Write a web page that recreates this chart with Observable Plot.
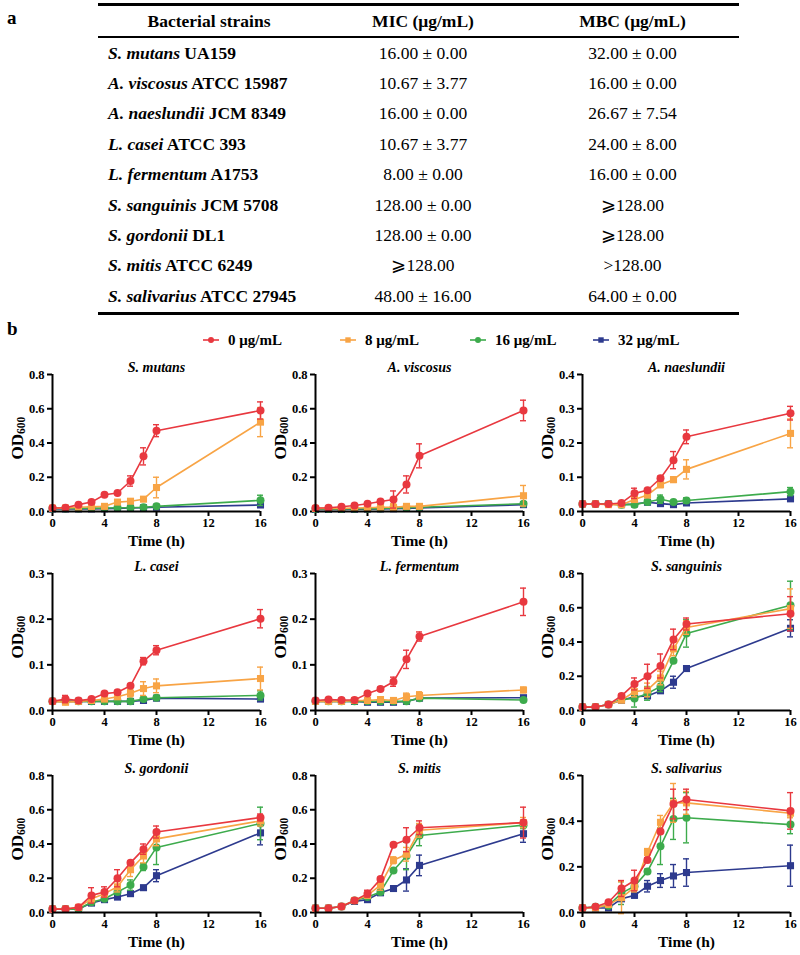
<!DOCTYPE html>
<html>
<head>
<meta charset="utf-8">
<script src="https://cdn.jsdelivr.net/npm/d3@7"></script>
<script src="https://cdn.jsdelivr.net/npm/@observablehq/plot@0.6"></script>
<style>
  html, body { margin: 0; padding: 0; background: #fff; }
  #page { position: relative; width: 800px; height: 955px; overflow: hidden; font-family: "Liberation Serif", "Times New Roman", serif; color: #000; }
  .lbl { position: absolute; font-weight: bold; font-size: 19px; line-height: 1; }
  #tbl { position: absolute; left: 98px; top: 3px; width: 641px; border-top: 3px solid #000; border-bottom: 3px solid #000; font-size: 17.5px; }
  .row { display: flex; align-items: center; height: 30.4px; }
  .hdr { height: 30px; border-bottom: 2.5px solid #000; font-weight: bold; }
  .c1 { width: 222px; padding-left: 10px; box-sizing: border-box; font-weight: bold; white-space: nowrap; }
  .hdr .c1 { text-align: center; padding-left: 0; }
  .c2 { width: 206px; text-align: center; white-space: nowrap; }
  .c3 { width: 213px; text-align: center; white-space: nowrap; }
  .legend-item { position: absolute; top: 331px; height: 18px; display: flex; align-items: center; font-weight: bold; font-size: 15px; white-space: nowrap; }
  .panel { position: absolute; }
</style>
</head>
<body>
<div id="page">
  <div class="lbl" style="left:7px; top:8px;">a</div>
  <div id="tbl"></div>
  <div class="lbl" style="left:7px; top:319px;">b</div>
  <div id="legend"></div>
  <div id="panels"></div>
</div>
<script>
// ---------- Table data ----------
const strainSpecies = ["S. mutans","A. viscosus","A. naeslundii","L. casei","L. fermentum","S. sanguinis","S. gordonii","S. mitis","S. salivarius"];
const strainIds = ["UA159","ATCC 15987","JCM 8349","ATCC 393","A1753","JCM 5708","DL1","ATCC 6249","ATCC 27945"];
const micValues = ["16.00 ± 0.00","10.67 ± 3.77","16.00 ± 0.00","10.67 ± 3.77","8.00 ± 0.00","128.00 ± 0.00","128.00 ± 0.00","⩾128.00","48.00 ± 16.00"];
const mbcValues = ["32.00 ± 0.00","16.00 ± 0.00","26.67 ± 7.54","24.00 ± 8.00","16.00 ± 0.00","⩾128.00","⩾128.00",">128.00","64.00 ± 0.00"];
const tableHeaders = ["Bacterial strains","MIC (μg/mL)","MBC (μg/mL)"];

// ---------- Growth curve data ----------
const times = [0,1,2,3,4,5,6,7,8,16];
const concLabels = ["0 μg/mL","8 μg/mL","16 μg/mL","32 μg/mL"];
const concColors = ["#E8383F","#F8A445","#3DAB4C","#2D3A8E"];
const concSymbols = ["circle","square","circle","square"];

const mutansMean = [
 [0.020,0.022,0.040,0.055,0.098,0.108,0.178,0.322,0.472,0.590],
 [0.020,0.020,0.025,0.028,0.030,0.055,0.060,0.072,0.140,0.522],
 [0.018,0.018,0.018,0.020,0.020,0.022,0.022,0.025,0.030,0.065],
 [0.015,0.015,0.015,0.015,0.016,0.018,0.020,0.022,0.025,0.038]];
const mutansSD = [
 [0.004,0.004,0.005,0.005,0.008,0.008,0.030,0.050,0.035,0.050],
 [0.003,0.003,0.004,0.004,0.005,0.008,0.012,0.010,0.060,0.085],
 [0.003,0.003,0.003,0.003,0.003,0.004,0.004,0.004,0.005,0.030],
 [0.002,0.002,0.002,0.002,0.002,0.003,0.003,0.003,0.004,0.010]];

const viscosusMean = [
 [0.020,0.022,0.028,0.035,0.045,0.058,0.070,0.158,0.325,0.590],
 [0.018,0.018,0.018,0.020,0.022,0.025,0.025,0.030,0.030,0.092],
 [0.015,0.015,0.015,0.016,0.016,0.018,0.020,0.022,0.025,0.045],
 [0.012,0.012,0.012,0.013,0.014,0.015,0.016,0.018,0.020,0.040]];
const viscosusSD = [
 [0.004,0.004,0.005,0.005,0.006,0.008,0.050,0.050,0.070,0.060],
 [0.003,0.003,0.003,0.004,0.004,0.005,0.020,0.006,0.006,0.060],
 [0.002,0.002,0.002,0.002,0.003,0.003,0.003,0.003,0.004,0.008],
 [0.002,0.002,0.002,0.002,0.002,0.002,0.003,0.003,0.003,0.006]];

const naeslundiiMean = [
 [0.022,0.022,0.022,0.025,0.053,0.062,0.097,0.150,0.218,0.287],
 [0.022,0.022,0.020,0.020,0.035,0.048,0.078,0.093,0.123,0.228],
 [0.022,0.022,0.022,0.020,0.020,0.028,0.036,0.028,0.032,0.058],
 [0.022,0.022,0.022,0.020,0.022,0.027,0.023,0.020,0.025,0.037]];
const naeslundiiSD = [
 [0.002,0.002,0.002,0.003,0.015,0.005,0.006,0.025,0.020,0.020],
 [0.002,0.002,0.002,0.002,0.008,0.006,0.008,0.008,0.028,0.042],
 [0.002,0.002,0.002,0.002,0.003,0.004,0.012,0.004,0.008,0.012],
 [0.002,0.002,0.002,0.002,0.002,0.003,0.003,0.003,0.003,0.005]];

const caseiMean = [
 [0.020,0.025,0.022,0.025,0.037,0.040,0.054,0.108,0.132,0.201],
 [0.020,0.018,0.020,0.022,0.025,0.030,0.038,0.048,0.054,0.070],
 [0.020,0.020,0.020,0.020,0.020,0.020,0.020,0.025,0.028,0.033],
 [0.020,0.020,0.020,0.020,0.020,0.020,0.020,0.022,0.027,0.025]];
const caseiSD = [
 [0.003,0.008,0.003,0.003,0.004,0.004,0.004,0.008,0.010,0.020],
 [0.003,0.004,0.003,0.003,0.004,0.005,0.008,0.015,0.015,0.025],
 [0.002,0.002,0.002,0.002,0.002,0.002,0.002,0.003,0.004,0.010],
 [0.002,0.002,0.002,0.002,0.002,0.002,0.002,0.002,0.003,0.004]];

const fermentumMean = [
 [0.022,0.024,0.023,0.023,0.037,0.047,0.063,0.112,0.162,0.238],
 [0.020,0.020,0.020,0.022,0.022,0.024,0.022,0.030,0.033,0.045],
 [0.020,0.020,0.020,0.020,0.020,0.020,0.020,0.020,0.027,0.023],
 [0.020,0.020,0.020,0.020,0.018,0.018,0.018,0.020,0.027,0.028]];
const fermentumSD = [
 [0.003,0.003,0.003,0.003,0.004,0.004,0.010,0.020,0.010,0.030],
 [0.002,0.002,0.002,0.002,0.003,0.003,0.003,0.008,0.008,0.006],
 [0.002,0.002,0.002,0.002,0.002,0.002,0.002,0.002,0.003,0.003],
 [0.002,0.002,0.002,0.002,0.002,0.002,0.002,0.002,0.003,0.003]];

const sanguinisMean = [
 [0.020,0.020,0.035,0.085,0.155,0.200,0.260,0.415,0.505,0.565],
 [0.020,0.020,0.035,0.060,0.110,0.120,0.190,0.360,0.485,0.595],
 [0.020,0.020,0.035,0.065,0.070,0.100,0.140,0.290,0.450,0.615],
 [0.020,0.020,0.035,0.060,0.080,0.085,0.115,0.165,0.245,0.480]];
const sanguinisSD = [
 [0.005,0.005,0.006,0.010,0.035,0.070,0.070,0.060,0.035,0.100],
 [0.005,0.005,0.006,0.010,0.030,0.040,0.040,0.040,0.040,0.115],
 [0.005,0.005,0.006,0.010,0.050,0.040,0.030,0.010,0.080,0.140],
 [0.005,0.005,0.005,0.008,0.010,0.010,0.010,0.035,0.010,0.050]];

const gordoniiMean = [
 [0.020,0.020,0.030,0.100,0.120,0.200,0.290,0.370,0.470,0.555],
 [0.020,0.020,0.030,0.080,0.110,0.150,0.250,0.330,0.430,0.535],
 [0.020,0.020,0.020,0.060,0.080,0.120,0.160,0.265,0.380,0.520],
 [0.020,0.020,0.020,0.055,0.075,0.090,0.110,0.145,0.215,0.465]];
const gordoniiSD = [
 [0.004,0.004,0.005,0.045,0.030,0.050,0.010,0.030,0.035,0.020],
 [0.004,0.004,0.005,0.020,0.020,0.030,0.040,0.040,0.040,0.030],
 [0.004,0.004,0.004,0.010,0.010,0.010,0.030,0.020,0.100,0.095],
 [0.003,0.003,0.003,0.005,0.008,0.008,0.008,0.010,0.035,0.070]];

const mitisMean = [
 [0.025,0.025,0.035,0.070,0.110,0.195,0.395,0.425,0.495,0.525],
 [0.025,0.025,0.035,0.070,0.100,0.160,0.305,0.340,0.480,0.525],
 [0.025,0.025,0.035,0.070,0.090,0.120,0.245,0.330,0.450,0.510],
 [0.025,0.025,0.035,0.065,0.075,0.115,0.140,0.190,0.275,0.460]];
const mitisSD = [
 [0.004,0.004,0.005,0.008,0.020,0.010,0.010,0.070,0.040,0.090],
 [0.004,0.004,0.005,0.008,0.015,0.030,0.020,0.040,0.040,0.030],
 [0.004,0.004,0.005,0.008,0.010,0.010,0.010,0.080,0.060,0.020],
 [0.004,0.004,0.005,0.008,0.010,0.010,0.010,0.065,0.060,0.050]];

const salivariusMean = [
 [0.020,0.025,0.045,0.105,0.140,0.230,0.355,0.475,0.495,0.445],
 [0.020,0.020,0.035,0.065,0.110,0.265,0.395,0.480,0.480,0.435],
 [0.020,0.025,0.030,0.085,0.115,0.180,0.290,0.410,0.415,0.385],
 [0.020,0.020,0.020,0.060,0.075,0.115,0.140,0.160,0.175,0.205]];
const salivariusSD = [
 [0.004,0.005,0.006,0.035,0.045,0.010,0.010,0.065,0.045,0.080],
 [0.004,0.004,0.006,0.070,0.020,0.015,0.030,0.085,0.050,0.020],
 [0.004,0.004,0.005,0.050,0.020,0.010,0.080,0.090,0.110,0.040],
 [0.004,0.004,0.004,0.010,0.010,0.025,0.030,0.050,0.060,0.090]];

const panelMeans = [mutansMean, viscosusMean, naeslundiiMean, caseiMean, fermentumMean, sanguinisMean, gordoniiMean, mitisMean, salivariusMean];
const panelSDs = [mutansSD, viscosusSD, naeslundiiSD, caseiSD, fermentumSD, sanguinisSD, gordoniiSD, mitisSD, salivariusSD];
const panelYMax = [0.8, 0.8, 0.4, 0.3, 0.3, 0.8, 0.8, 0.8, 0.6];
const panelYTicks = [
  [0,0.2,0.4,0.6,0.8],[0,0.2,0.4,0.6,0.8],[0,0.1,0.2,0.3,0.4],
  [0,0.1,0.2,0.3],[0,0.1,0.2,0.3],[0,0.2,0.4,0.6,0.8],
  [0,0.2,0.4,0.6,0.8],[0,0.2,0.4,0.6,0.8],[0,0.2,0.4,0.6]];
const xTicks = [0,4,8,12,16];

// ---------- Table ----------
const tbl = document.getElementById("tbl");
{
  const h = document.createElement("div");
  h.className = "row hdr";
  tableHeaders.forEach((t, i) => {
    const c = document.createElement("div");
    c.className = "c" + (i + 1);
    c.textContent = t;
    h.appendChild(c);
  });
  tbl.appendChild(h);
  strainSpecies.forEach((sp, i) => {
    const r = document.createElement("div");
    r.className = "row";
    const c1 = document.createElement("div");
    c1.className = "c1";
    const em = document.createElement("i");
    em.textContent = sp;
    c1.appendChild(em);
    c1.appendChild(document.createTextNode(" " + strainIds[i]));
    const c2 = document.createElement("div");
    c2.className = "c2";
    c2.textContent = micValues[i];
    const c3 = document.createElement("div");
    c3.className = "c3";
    c3.textContent = mbcValues[i];
    r.append(c1, c2, c3);
    tbl.appendChild(r);
  });
}

// ---------- Legend ----------
const legendLeft = [200, 337, 467, 590];
const legend = document.getElementById("legend");
concLabels.forEach((lab, i) => {
  const d = document.createElement("div");
  d.className = "legend-item";
  d.style.left = legendLeft[i] + "px";
  const ns = "http://www.w3.org/2000/svg";
  const s = document.createElementNS(ns, "svg");
  s.setAttribute("width", 22); s.setAttribute("height", 12);
  s.style.marginRight = "6px";
  const ln = document.createElementNS(ns, "line");
  ln.setAttribute("x1", 3); ln.setAttribute("x2", 19); ln.setAttribute("y1", 6); ln.setAttribute("y2", 6);
  ln.setAttribute("stroke", concColors[i]); ln.setAttribute("stroke-width", 1.6);
  s.appendChild(ln);
  if (concSymbols[i] === "circle") {
    const m = document.createElementNS(ns, "circle");
    m.setAttribute("cx", 11); m.setAttribute("cy", 6); m.setAttribute("r", 3);
    m.setAttribute("fill", concColors[i]);
    s.appendChild(m);
  } else {
    const m = document.createElementNS(ns, "rect");
    m.setAttribute("x", 8.3); m.setAttribute("y", 3.3); m.setAttribute("width", 5.4); m.setAttribute("height", 5.4);
    m.setAttribute("fill", concColors[i]);
    s.appendChild(m);
  }
  d.appendChild(s);
  d.appendChild(document.createTextNode(lab));
  legend.appendChild(d);
});

// ---------- Panels ----------
const colLefts = [0, 263, 530];
const rowTops = [350, 549, 751];
const panelsEl = document.getElementById("panels");

strainSpecies.forEach((name, p) => {
  const M = panelMeans[p], E = panelSDs[p];
  const marks = [
    Plot.axisX({ticks: xTicks, tickSize: 5, tickPadding: 2, strokeWidth: 2, stroke: "black", fontSize: 12.5, label: null}),
    Plot.axisY({ticks: panelYTicks[p], tickFormat: d3.format(".1f"), tickSize: 5, tickPadding: 3, strokeWidth: 2, stroke: "black", fontSize: 12.5, label: null}),
  ];
  for (let s = 3; s >= 0; s--) {
    const rows = times.map((t, i) => ({t, v: M[s][i], e: E[s][i]}));
    const col = concColors[s];
    marks.push(
      Plot.ruleX(rows, {x: "t", y1: d => d.v - d.e, y2: d => d.v + d.e, stroke: col, strokeWidth: 1.4}),
      Plot.ruleY(rows, {y: d => d.v + d.e, x1: "t", x2: "t", insetLeft: -3, insetRight: -3, stroke: col, strokeWidth: 1.4}),
      Plot.ruleY(rows, {y: d => d.v - d.e, x1: "t", x2: "t", insetLeft: -3, insetRight: -3, stroke: col, strokeWidth: 1.4}),
      Plot.line(rows, {x: "t", y: "v", stroke: col, strokeWidth: 1.6}),
      Plot.dot(rows, {x: "t", y: "v", fill: col, r: 4, symbol: concSymbols[s]})
    );
  }
  marks.push(
    Plot.ruleX([0], {strokeWidth: 2, stroke: "black"}),
    Plot.ruleY([0], {strokeWidth: 2, stroke: "black"}),
    Plot.text([name], {frameAnchor: "top", dy: -12, fontStyle: "italic", fontWeight: "bold", fontSize: 14}),
    Plot.text(["Time (h)"], {frameAnchor: "bottom", dy: 34, fontWeight: "bold", fontSize: 15.5})
  );
  const chart = Plot.plot({
    width: 266, height: 200,
    marginLeft: 52, marginRight: 6, marginTop: 24, marginBottom: 39,
    x: {domain: [0, 16], label: null},
    y: {domain: [0, panelYMax[p]], label: null},
    style: {fontFamily: "'Liberation Serif', 'Times New Roman', serif", fontWeight: "bold", fontSize: "13px", color: "black", background: "transparent", overflow: "visible"},
    marks
  });
  // y-axis label with subscript
  const t = d3.select(chart).append("text")
    .attr("transform", "translate(17,88) rotate(-90)")
    .attr("text-anchor", "middle")
    .attr("dominant-baseline", "central")
    .attr("font-size", 17)
    .attr("font-weight", "bold")
    .attr("fill", "black");
  t.append("tspan").text("OD");
  t.append("tspan").attr("font-size", 11.5).attr("dy", 4).text("600");
  const wrap = document.createElement("div");
  wrap.className = "panel";
  wrap.style.left = colLefts[p % 3] + "px";
  wrap.style.top = rowTops[Math.floor(p / 3)] + "px";
  wrap.appendChild(chart);
  panelsEl.appendChild(wrap);
});
</script>
</body>
</html>
